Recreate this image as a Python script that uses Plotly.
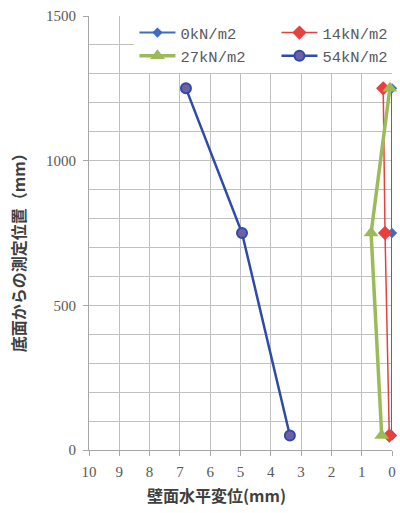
import plotly.graph_objects as go

# Measurement heights from the base (mm)
heights = [1250, 750, 50]

# Horizontal wall displacement (mm) for each surcharge load
disp_0kn = [0.0, 0.0, 0.0]
disp_14kn = [0.29, 0.23, 0.09]
disp_27kn = [0.07, 0.69, 0.34]
disp_54kn = [6.8, 4.95, 3.37]

series_names = ["0kN/m2", "14kN/m2", "27kN/m2", "54kN/m2"]
x_ticks = [10, 9, 8, 7, 6, 5, 4, 3, 2, 1, 0]
y_ticks = [0, 500, 1000, 1500]

label_font = "Liberation Serif"
legend_font = "Liberation Mono"
gray = "#595959"
title_font = dict(family="Noto Sans CJK JP", size=16, color="#404040", weight="bold")

fig = go.Figure()

fig.add_trace(go.Scatter(
    x=disp_0kn, y=heights, name=series_names[0], mode="lines+markers",
    line=dict(color="#3d6cc0", width=2),
    marker=dict(symbol="diamond", size=8, color="#3d6cc0"),
    cliponaxis=False,
))
fig.add_trace(go.Scatter(
    x=disp_14kn, y=heights, name=series_names[1], mode="lines+markers",
    line=dict(color="#e8403f", width=1.5),
    marker=dict(symbol="diamond", size=11, color="#e8403f"),
    cliponaxis=False,
))
fig.add_trace(go.Scatter(
    x=disp_27kn, y=heights, name=series_names[2], mode="lines+markers",
    line=dict(color="#9bbb59", width=3.5),
    marker=dict(symbol="triangle-up", size=13, color="#9bbb59"),
    cliponaxis=False,
))
fig.add_trace(go.Scatter(
    x=disp_54kn, y=heights, name=series_names[3], mode="lines+markers",
    line=dict(color="#2f4ba8", width=2.5),
    marker=dict(symbol="circle", size=10, color="#6e5fa6",
                line=dict(color="#2f4ba8", width=2)),
    cliponaxis=False,
))

fig.update_layout(
    width=400, height=513,
    margin=dict(l=89, r=8, t=16, b=63, autoexpand=False),
    paper_bgcolor="white", plot_bgcolor="white",
    font=dict(family=label_font, size=15, color=gray),
    legend=dict(
        orientation="h", x=0.15, y=1.0, xanchor="left", yanchor="top",
        bgcolor="white", entrywidth=91, traceorder="normal",
        font=dict(family=legend_font, size=15.5, color=gray),
        itemwidth=36, tracegroupgap=0,
    ),
    xaxis=dict(
        range=[10, 0], tickvals=x_ticks, ticktext=[str(v) for v in x_ticks],
        showgrid=True, gridcolor="#c0c0c0", gridwidth=1,
        showline=True, linecolor="#a6a6a6", linewidth=1,
        ticks="outside", ticklen=5, tickcolor="#a6a6a6",
        ticklabelstandoff=3,
        zeroline=False, mirror=False,
    ),
    yaxis=dict(
        range=[0, 1500], tickvals=y_ticks, ticktext=[str(v) for v in y_ticks],
        showgrid=True, gridcolor="#c0c0c0", gridwidth=1,
        minor=dict(dtick=100, showgrid=True, gridcolor="#c0c0c0", gridwidth=1),
        showline=True, linecolor="#a6a6a6", linewidth=1,
        ticks="outside", ticklen=5, tickcolor="#a6a6a6",
        ticklabelstandoff=4,
        zeroline=False, mirror=False,
    ),
)

# Axis titles placed as annotations
fig.add_annotation(
    text="壁面水平変位(mm)", xref="paper", yref="paper",
    x=0.42, y=-0.104, xanchor="center", yanchor="middle",
    showarrow=False, font=title_font,
)
fig.add_annotation(
    text="底面からの測定位置（mm）", xref="paper", yref="paper",
    x=-0.234, y=0.463, xanchor="center", yanchor="middle",
    textangle=-90, showarrow=False, font=title_font,
)

fig.write_html("out.html")
